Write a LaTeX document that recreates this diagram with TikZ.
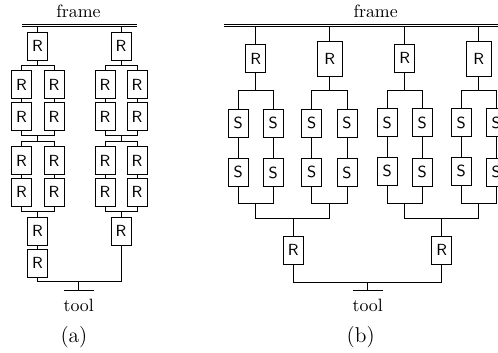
\documentclass[tikz,border=0pt]{standalone}
\usepackage{amsmath}

\tikzset{
  joint/.style={rectangle,draw,minimum width=11.2pt,minimum height=15.7pt,inner sep=0pt,font=\small\sffamily},
  bigjoint/.style={joint,minimum width=14pt,minimum height=19.6pt},
  link/.style={draw,-,line width=0.45pt},
  plate/.style={draw,-,line width=0.45pt,double,double distance=0.95pt},
  base/.style={draw,-,line width=0.7pt}
}

\begin{document}
\begin{tikzpicture}[x=0.56pt,y=-0.56pt]
\useasboundingbox (0,0) rectangle (498,353);
% (a)
\node(framea) at (78.5,11){frame};
\coordinate(fal) at (22,25.4);
\coordinate(far) at (137,25.4);
\path[plate] (fal) -- (far);
\coordinate(fa1) at (37.5,26.8);
\coordinate(fa2) at (121,26.8);
\node(rt1)[joint] at (37.5,46){R};
\node(rt2)[joint] at (121,46){R};
\node(a1)[joint] at (21.5,84.5){R};
\node(a2)[joint] at (54,84.5){R};
\node(a3)[joint] at (105,84.5){R};
\node(a4)[joint] at (137,84.5){R};
\node(b1)[joint] at (21.5,116.5){R};
\node(b2)[joint] at (54,116.5){R};
\node(b3)[joint] at (105,116.5){R};
\node(b4)[joint] at (137,116.5){R};
\node(c1)[joint] at (21.5,160.5){R};
\node(c2)[joint] at (54,160.5){R};
\node(c3)[joint] at (105,160.5){R};
\node(c4)[joint] at (137,160.5){R};
\node(d1)[joint] at (21.5,192){R};
\node(d2)[joint] at (54,192){R};
\node(d3)[joint] at (105,192){R};
\node(d4)[joint] at (137,192){R};
\node(e1)[joint] at (37.5,231){R};
\node(e2)[joint] at (121,231){R};
\node(f1)[joint] at (37.5,263){R};
\coordinate(ja1) at (37.5,65);
\coordinate(ja2) at (121,65);
\coordinate(jb1) at (37.5,135);
\coordinate(jb2) at (121,135);
\coordinate(jc1) at (37.5,141);
\coordinate(jc2) at (121,141);
\coordinate(jd1) at (37.5,211.7);
\coordinate(jd2) at (121,211.7);
\coordinate(jta) at (78.7,281.7);
\coordinate(ta) at (78.7,290.7);
\coordinate(tal) at (64,290.7);
\coordinate(tar) at (94,290.7);
\node(toola) at (78.7,305.5){tool};
\node(capa)[font=\large] at (74,337){(a)};
\path[link] (fa1) -- (rt1);
\path[link] (fa2) -- (rt2);
\path[link] (rt1) -- (ja1);
\path[link] (rt2) -- (ja2);
\path[link] (ja1) -| (a1);
\path[link] (ja1) -| (a2);
\path[link] (ja2) -| (a3);
\path[link] (ja2) -| (a4);
\path[link] (a1) -- (b1);
\path[link] (a2) -- (b2);
\path[link] (a3) -- (b3);
\path[link] (a4) -- (b4);
\path[link] (b1) |- (jb1);
\path[link] (b2) |- (jb1);
\path[link] (b3) |- (jb2);
\path[link] (b4) |- (jb2);
\path[link] (jb1) -- (jc1);
\path[link] (jb2) -- (jc2);
\path[link] (jc1) -| (c1);
\path[link] (jc1) -| (c2);
\path[link] (jc2) -| (c3);
\path[link] (jc2) -| (c4);
\path[link] (c1) -- (d1);
\path[link] (c2) -- (d2);
\path[link] (c3) -- (d3);
\path[link] (c4) -- (d4);
\path[link] (d1) |- (jd1);
\path[link] (d2) |- (jd1);
\path[link] (d3) |- (jd2);
\path[link] (d4) |- (jd2);
\path[link] (jd1) -- (e1);
\path[link] (jd2) -- (e2);
\path[link] (e1) -- (f1);
\path[link] (f1) |- (jta);
\path[link] (e2) |- (jta);
\path[link] (jta) -- (ta);
\path[base] (tal) -- (tar);
% (b)
\node(frameb) at (375.7,11){frame};
\coordinate(fbl) at (224,25.4);
\coordinate(fbr) at (505,25.4);
\path[plate] (fbl) -- (fbr);
\coordinate(fb1) at (255.7,26.8);
\coordinate(fb2) at (329.7,26.8);
\coordinate(fb3) at (404.7,26.8);
\coordinate(fb4) at (478.7,26.8);
\node(r1)[joint] at (255.7,58.5){R};
\node(r2)[bigjoint] at (329.7,58.5){R};
\node(r3)[joint] at (404.7,58){R};
\node(r4)[bigjoint] at (478.7,58.5){R};
\node(s1)[joint] at (238.3,123){S};
\node(s2)[joint] at (273.3,123){S};
\node(s3)[joint] at (311.7,123){S};
\node(s4)[joint] at (347,123){S};
\node(s5)[joint] at (387.3,122.5){S};
\node(s6)[joint] at (422.3,122.5){S};
\node(s7)[joint] at (461.3,122.5){S};
\node(s8)[joint] at (496.3,122.5){S};
\node(t1)[joint] at (238.3,172){S};
\node(t2)[joint] at (273.3,172.7){S};
\node(t3)[joint] at (311.7,172){S};
\node(t4)[joint] at (347,172.7){S};
\node(t5)[joint] at (387.3,171){S};
\node(t6)[joint] at (422.3,172){S};
\node(t7)[joint] at (461.3,171){S};
\node(t8)[joint] at (496.3,172){S};
\node(u1)[joint] at (293.2,250){R};
\node(u2)[joint] at (441.8,250){R};
\coordinate(k1) at (255.7,90.3);
\coordinate(k2) at (329.7,90.3);
\coordinate(k3) at (404.7,90.3);
\coordinate(k4) at (478.7,90.3);
\coordinate(m1) at (255.7,203.7);
\coordinate(m2) at (329.7,203.7);
\coordinate(m3) at (404.7,203.3);
\coordinate(m4) at (478.7,203.3);
\coordinate(n1) at (293.2,218.3);
\coordinate(n2) at (441.8,218.3);
\coordinate(jtb) at (367.7,282.3);
\coordinate(tb) at (367.7,290.7);
\coordinate(tbl) at (353,290.7);
\coordinate(tbr) at (383,290.7);
\node(toolb) at (367.7,305.5){tool};
\node(capb)[font=\large] at (360.7,337){(b)};
\path[link] (fb1) -- (r1);
\path[link] (fb2) -- (r2);
\path[link] (fb3) -- (r3);
\path[link] (fb4) -- (r4);
\path[link] (r1) -- (k1);
\path[link] (r2) -- (k2);
\path[link] (r3) -- (k3);
\path[link] (r4) -- (k4);
\path[link] (k1) -| (s1);
\path[link] (k1) -| (s2);
\path[link] (k2) -| (s3);
\path[link] (k2) -| (s4);
\path[link] (k3) -| (s5);
\path[link] (k3) -| (s6);
\path[link] (k4) -| (s7);
\path[link] (k4) -| (s8);
\path[link] (s1) -- (t1);
\path[link] (s2) -- (t2);
\path[link] (s3) -- (t3);
\path[link] (s4) -- (t4);
\path[link] (s5) -- (t5);
\path[link] (s6) -- (t6);
\path[link] (s7) -- (t7);
\path[link] (s8) -- (t8);
\path[link] (t1) |- (m1);
\path[link] (t2) |- (m1);
\path[link] (t3) |- (m2);
\path[link] (t4) |- (m2);
\path[link] (t5) |- (m3);
\path[link] (t6) |- (m3);
\path[link] (t7) |- (m4);
\path[link] (t8) |- (m4);
\path[link] (m1) |- (n1);
\path[link] (m2) |- (n1);
\path[link] (m3) |- (n2);
\path[link] (m4) |- (n2);
\path[link] (n1) -- (u1);
\path[link] (n2) -- (u2);
\path[link] (u1) |- (jtb);
\path[link] (u2) |- (jtb);
\path[link] (jtb) -- (tb);
\path[base] (tbl) -- (tbr);
\end{tikzpicture}
\end{document}
